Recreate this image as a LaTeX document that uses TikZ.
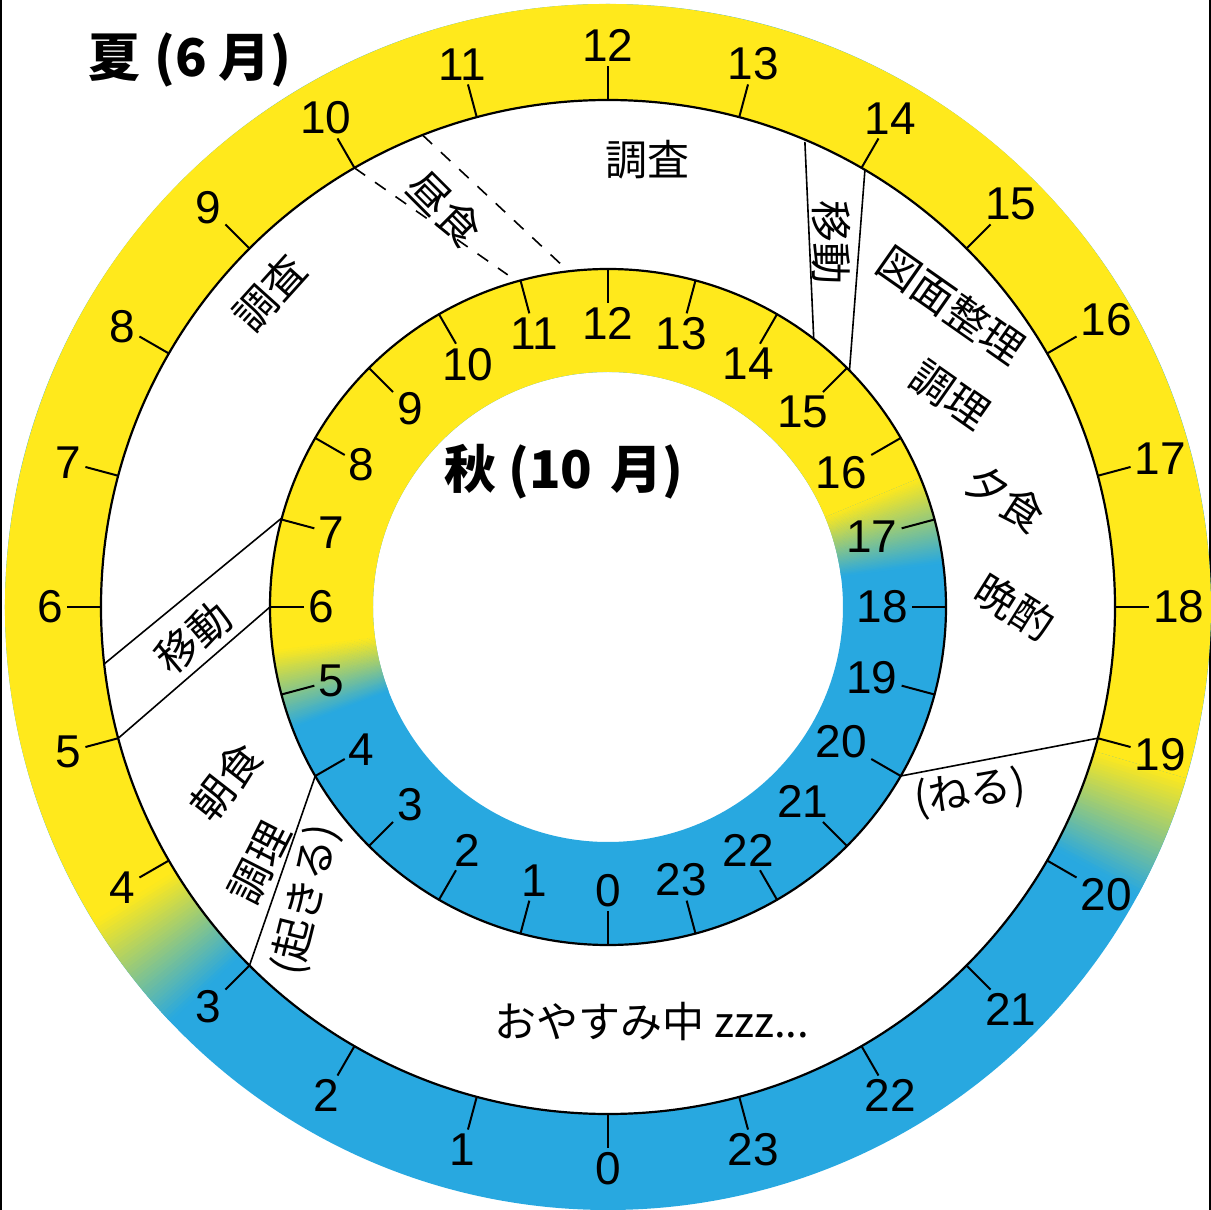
\documentclass[tikz,border=0pt]{standalone}
\usepackage{fontspec}
\setmainfont{Liberation Sans}
\newfontfamily\jp{Noto Sans CJK JP}
\definecolor{ylw}{RGB}{255,233,28}
\definecolor{blu}{RGB}{40,168,224}
\newcommand\ringseg[5]{%
  \fill[#5] ({-90-15*(#1)}:#4) arc[start angle={-90-15*(#1)}, end angle={-90-15*(#2)}, radius=#4]
    -- ({-90-15*(#2)}:#3) arc[start angle={-90-15*(#2)}, end angle={-90-15*(#1)}, radius=#3] -- cycle;}
\begin{document}
\begin{tikzpicture}[x=1pt,y=1pt,
  ringline/.style={line width=2.2pt},
  hourtick/.style={line width=2pt},
  divider/.style={line width=1.6pt},
  dashdiv/.style={line width=1.6pt, dash pattern=on 13pt off 12pt},
  numlab/.style={font=\fontsize{46}{46}\selectfont, inner sep=4pt},
  act/.style={font=\jp\fontsize{42}{42}\selectfont, inner sep=0pt},
  ttl/.style={font=\jp\bfseries\fontsize{52}{52}\selectfont, inner sep=0pt}]
\useasboundingbox (-608,-603) rectangle (603,607);
\fill[white] (-608,-603) rectangle (603,607);
\fill[black] (-608,-603) rectangle (-606,607);
\fill[black] (601,-603) rectangle (603,607);

% ---- outer ring (summer) ----
\fill[blu,even odd rule] (0,0) circle[radius=603] (0,0) circle[radius=507];
\ringseg{3.9}{19.1}{507}{603}{ylw}
\foreach \k in {0,...,39}{
  \pgfmathsetmacro\ha{19.1+0.02*\k}
  \pgfmathsetmacro\hb{\ha+0.026}
  \pgfmathtruncatemacro\t{100-2.5*(\k+0.5)}
  \ringseg{\ha}{\hb}{507}{603}{ylw!\t!blu}
}
\foreach \k in {0,...,39}{
  \pgfmathsetmacro\ha{3.1+0.02*\k}
  \pgfmathsetmacro\hb{\ha+0.026}
  \pgfmathtruncatemacro\t{2.5*(\k+0.5)}
  \ringseg{\ha}{\hb}{507}{603}{ylw!\t!blu}
}

% ---- inner ring (autumn) ----
\fill[blu,even odd rule] (0,0) circle[radius=338] (0,0) circle[radius=235];
\ringseg{5.5}{16.5}{235}{338}{ylw}
\foreach \k in {0,...,49}{
  \pgfmathsetmacro\ha{16.5+0.02*\k}
  \pgfmathsetmacro\hb{\ha+0.026}
  \pgfmathtruncatemacro\t{100-2*(\k+0.5)}
  \ringseg{\ha}{\hb}{235}{338}{ylw!\t!blu}
}
\foreach \k in {0,...,44}{
  \pgfmathsetmacro\ha{4.6+0.02*\k}
  \pgfmathsetmacro\hb{\ha+0.026}
  \pgfmathtruncatemacro\t{100*(\k+0.5)/45}
  \ringseg{\ha}{\hb}{235}{338}{ylw!\t!blu}
}

\draw[ringline] (0,0) circle[radius=507];
\draw[ringline] (0,0) circle[radius=338];

% ---- ticks and hour labels ----
\foreach \h in {0,...,23}{
  \pgfmathtruncatemacro\a{mod(-90-15*\h+720,360)}
  \pgfmathtruncatemacro\b{mod(\a+180,360)}
  \draw[hourtick] (\a:507) -- (\a:541) coordinate (ot\h);
  \node[numlab, anchor=\b] (on\h) at (ot\h) {\h};
  \draw[hourtick] (\a:338) -- (\a:304) coordinate (it\h);
  \node[numlab, anchor=\a] (in\h) at (it\h) {\h};
}

% ---- dividers ----
\coordinate (lunA1) at ({-90-15*10.0}:507);
\coordinate (lunA2) at ({-90-15*10.88}:347);
\coordinate (lunB1) at ({-90-15*10.57}:507);
\coordinate (lunB2) at ({-90-15*11.47}:347);
\draw[dashdiv] (lunA1) -- (lunA2);
\draw[dashdiv] (lunB1) -- (lunB2);

\coordinate (mvA1) at ({-90-15*13.53}:505);
\coordinate (mvA2) at ({-90-15*14.5}:338);
\coordinate (mvB1) at ({-90-15*14.03}:507);
\coordinate (mvB2) at ({-90-15*15.04}:338);
\draw[divider] (mvA1) -- (mvA2);
\draw[divider] (mvB1) -- (mvB2);

\coordinate (mvC1) at ({-90-15*5.57}:507);
\coordinate (mvC2) at ({-90-15*7.02}:338);
\coordinate (mvD1) at ({-90-15*5.0}:507);
\coordinate (mvD2) at ({-90-15*6.0}:338);
\draw[divider] (mvC1) -- (mvC2);
\draw[divider] (mvD1) -- (mvD2);

\coordinate (slp1) at ({-90-15*19.0}:507);
\coordinate (slp2) at ({-90-15*20.0}:338);
\draw[divider] (slp1) -- (slp2);

\coordinate (wak1) at ({-90-15*3.0}:507);
\coordinate (wak2) at ({-90-15*4.0}:338);
\draw[divider] (wak1) -- (wak2);

% ---- titles ----
\node[ttl] (summer) at (-418,547) {夏\hspace{14pt}(6\hspace{12pt}月)};
\node[ttl] (autumn) at (-44,135) {秋\hspace{12pt}(10\hspace{18pt}月)};

% ---- activities ----
\node[act] (survey1) at (40,447) {調査};
\node[act, rotate=-45] (lunch) at (-163,399) {昼食};
\node[act, rotate=-90] (move1) at (223,364) {移動};
\node[act, rotate=-35] (drawing) at (343,302) {図面整理};
\node[act, rotate=-35] (cook1) at (342,212) {調理};
\node[act, rotate=-33] (dinner) at (397,109) {夕食};
\node[act, rotate=-32] (drink) at (407,0) {晩酌};
\node[act, rotate=8] (sleep) at (362,-186) {(ねる)};
\node[act] (night) at (44,-415) {おやすみ中 zzz...};
\node[act, rotate=48] (survey2) at (-338,314) {調査};
\node[act, rotate=40] (move2) at (-415,-30) {移動};
\node[act, rotate=52] (breakfast) at (-382,-175) {朝食};
\node[act, rotate=63] (cook2) at (-348,-256) {調理};
\node[act, rotate=76] (wake) at (-302,-293) {(起きる)};
\end{tikzpicture}
\end{document}
